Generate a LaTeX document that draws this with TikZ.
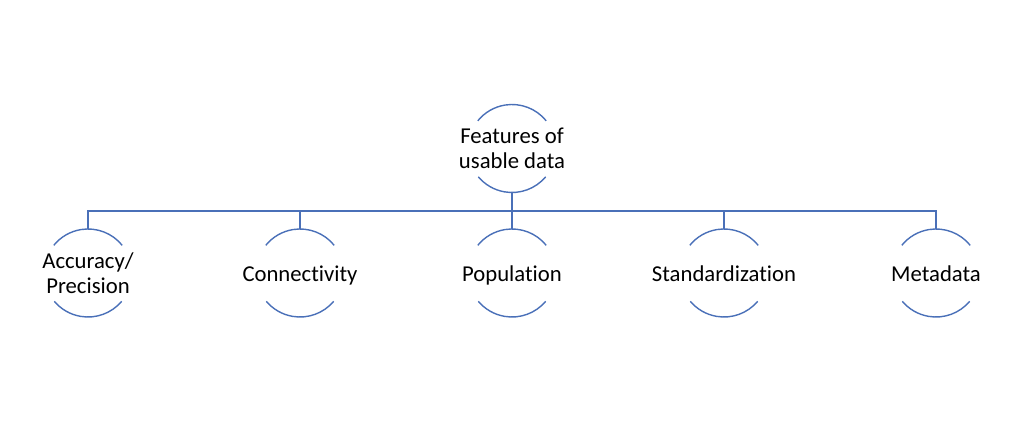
\documentclass[tikz,border=0pt]{standalone}
\usepackage{fontspec}
\setmainfont[Ligatures=NoCommon]{Carlito}
\begin{document}
\begin{tikzpicture}[x=1pt,y=1pt,
  ring/.style={circle,minimum size=88pt,inner sep=0pt},
  lbl/.style={align=center,inner sep=0pt,font=\fontsize{22.7}{24.5}\selectfont,text=black},
  one/.style={lbl,anchor=base},
  arcline/.style={draw=lineblue,line width=1.4pt},
  conn/.style={draw=lineblue,line width=1.4pt}]
\definecolor{lineblue}{HTML}{4A70B8}
\useasboundingbox (0,0) rectangle (1024,423);
% root
\node[ring] (r) at (512,274.5) {};
\node[lbl] (rt) at (r.center) {Features of\\usable data};
% children
\node[ring] (c1) at (88,150) {};
\node[ring] (c2) at (300,150) {};
\node[ring] (c3) at (512,150) {};
\node[ring] (c4) at (724,150) {};
\node[ring] (c5) at (936,150) {};
\node[lbl] (t1) at (c1.center) {Accuracy/\\Precision};
\node[one] (t2) at ([yshift=-8.3pt]c2.center) {Connectivity};
\node[one] (t3) at ([yshift=-8.3pt]c3.center) {Population};
\node[one] (t4) at ([yshift=-8.3pt]c4.center) {Standardization};
\node[one] (t5) at ([yshift=-8.3pt]c5.center) {Metadata};
% arcs
\foreach \n in {r,c1,c2,c3,c4,c5}{
  \draw[arcline] ([shift={(39:44)}]\n.center) arc[start angle=39,end angle=141,radius=44];
  \draw[arcline] ([shift={(-40:44)}]\n.center) arc[start angle=-40,end angle=-140,radius=44];
}
% connectors
\coordinate (bus) at (512,212);
\draw[conn] (r.south) -- (bus);
\foreach \n in {c1,c2,c3,c4,c5}{
  \draw[conn] (bus) -| (\n.north);
}
\end{tikzpicture}
\end{document}
